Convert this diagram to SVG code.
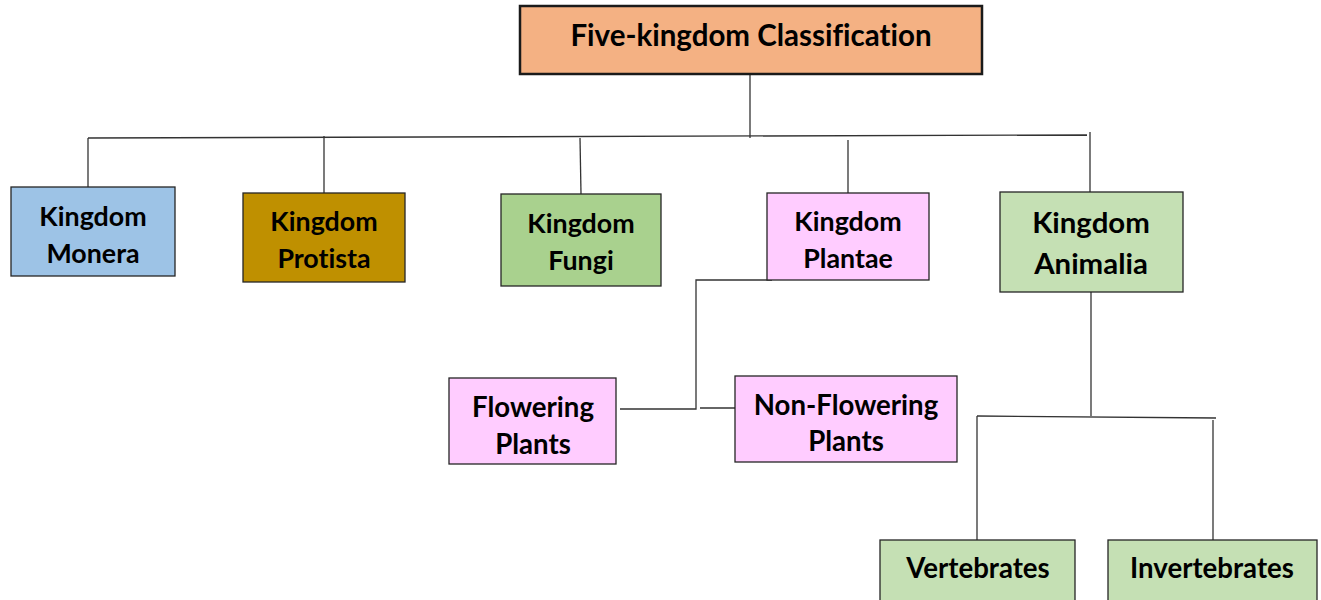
<svg xmlns="http://www.w3.org/2000/svg" width="1321" height="600" viewBox="0 0 1321 600">
<style>
  .box { stroke: #262626; stroke-width: 1.3; }
  .t { font-family: Lato, "Open Sans", sans-serif; font-weight: bold; font-size: 26.8px; fill: #000; text-anchor: middle; font-variant-ligatures: none; }
  .m { font-size: 27.6px; }
  .big { font-size: 29.4px; }
  .ttl { font-size: 29.5px; }
  .ln { stroke: #333; stroke-width: 1.3; fill: none; }
</style>
<rect width="1321" height="600" fill="#fff"/>
<g id="connectors">
  <line class="ln" x1="750" y1="74" x2="750" y2="138"/>
  <line class="ln" x1="88" y1="138" x2="1087" y2="135"/>
  <line class="ln" x1="88" y1="138" x2="88" y2="187"/>
  <line class="ln" x1="324" y1="136" x2="324" y2="193"/>
  <line class="ln" x1="580" y1="138" x2="581" y2="194"/>
  <line class="ln" x1="848" y1="140" x2="848" y2="193"/>
  <line class="ln" x1="1090" y1="132" x2="1090" y2="192"/>
  <polyline class="ln" points="772,280 696,280 696,409 620,409"/>
  <line class="ln" x1="700" y1="408" x2="735" y2="408"/>
  <line class="ln" x1="1091" y1="292" x2="1091" y2="416"/>
  <line class="ln" x1="977" y1="416" x2="1216" y2="418"/>
  <line class="ln" x1="977" y1="416" x2="977" y2="540"/>
  <line class="ln" x1="1213" y1="420" x2="1213" y2="540"/>
</g>
<g id="title">
  <rect x="520" y="6" width="462" height="68" fill="#F4B183" stroke="#1a1a1a" stroke-width="2.5"/>
  <text class="t ttl" x="751" y="46">Five-kingdom Classification</text>
</g>
<g id="monera">
  <rect class="box" x="11" y="187" width="164" height="89" fill="#9DC3E6"/>
  <text class="t" x="93" y="226">Kingdom</text>
  <text class="t" x="93" y="263">Monera</text>
</g>
<g id="protista">
  <rect class="box" x="243" y="193" width="162" height="89" fill="#BF9000"/>
  <text class="t" x="324" y="231">Kingdom</text>
  <text class="t" x="324" y="268">Protista</text>
</g>
<g id="fungi">
  <rect class="box" x="501" y="194" width="160" height="92" fill="#A9D18E"/>
  <text class="t" x="581" y="233">Kingdom</text>
  <text class="t" x="581" y="270">Fungi</text>
</g>
<g id="plantae">
  <rect class="box" x="767" y="193" width="162" height="87" fill="#FFCCFF"/>
  <text class="t" x="848" y="231">Kingdom</text>
  <text class="t" x="848" y="268">Plantae</text>
</g>
<g id="animalia">
  <rect class="box" x="1000" y="192" width="183" height="100" fill="#C5E0B4"/>
  <text class="t big" x="1091" y="233">Kingdom</text>
  <text class="t big" x="1091" y="274">Animalia</text>
</g>
<g id="flowering">
  <rect class="box" x="449" y="378" width="167" height="86" fill="#FFCCFF"/>
  <text class="t m" x="533" y="417">Flowering</text>
  <text class="t m" x="533" y="454">Plants</text>
</g>
<g id="nonflowering">
  <rect class="box" x="735" y="376" width="222" height="86" fill="#FFCCFF"/>
  <text class="t m" x="846" y="415">Non-Flowering</text>
  <text class="t m" x="846" y="451">Plants</text>
</g>
<g id="vertebrates">
  <rect class="box" x="880" y="540" width="195" height="70" fill="#C5E0B4"/>
  <text class="t m" x="978" y="578">Vertebrates</text>
</g>
<g id="invertebrates">
  <rect class="box" x="1108" y="540" width="209" height="70" fill="#C5E0B4"/>
  <text class="t m" x="1212" y="578">Invertebrates</text>
</g>
</svg>
